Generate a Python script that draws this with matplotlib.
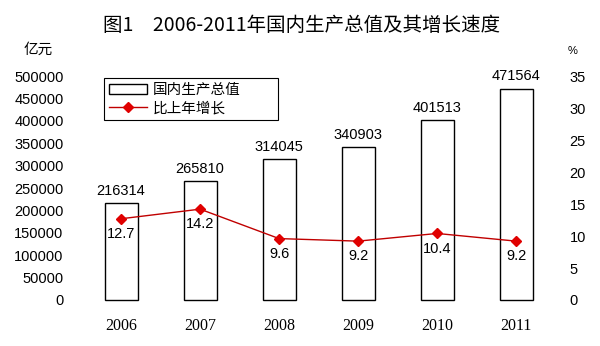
import matplotlib
matplotlib.use('Agg')
import matplotlib.pyplot as plt
import numpy as np

plt.rcParams['font.family'] = ['Liberation Sans', 'Noto Sans CJK SC', 'DejaVu Sans']

years = ['2006', '2007', '2008', '2009', '2010', '2011']
gdp = [216314, 265810, 314045, 340903, 401513, 471564]
growth = [12.7, 14.2, 9.6, 9.2, 10.4, 9.2]
gdp_ticks = [0, 50000, 100000, 150000, 200000, 250000, 300000, 350000, 400000, 450000, 500000]
pct_ticks = [0, 5, 10, 15, 20, 25, 30, 35]

fig = plt.figure(figsize=(6, 3.46), dpi=100)
ax = fig.add_axes([0.136, 0.133, 0.79, 0.647])
ax2 = ax.twinx()

x = np.arange(len(years))
bars = ax.bar(x, gdp, 0.42, color='white', edgecolor='black', linewidth=1.0,
              label='国内生产总值', zorder=2, clip_on=False)
for xi, v in zip(x, gdp):
    ax.text(xi, v + 12000, str(v), ha='center', va='bottom', fontsize=10.5)

ax.set_xlim(-0.5, len(years) - 0.5)
ax.set_ylim(0, 500000)
ax.set_yticks(gdp_ticks)
ax.set_yticklabels([str(t) for t in gdp_ticks], fontsize=10.5)
ax.set_xticks(x)
ax.set_xticklabels(years, fontsize=11.5, family='Liberation Serif')
ax.tick_params(axis='y', length=0, pad=13)
ax.tick_params(axis='x', length=0, pad=13)

line, = ax2.plot(x, growth, color='#c00000', linewidth=1.0, marker='D',
                 markersize=5, markerfacecolor='#e00000', markeredgecolor='#e00000',
                 label='比上年增长', zorder=3)
for xi, v in zip(x, growth):
    ax2.text(xi, v - 1.3, str(v), ha='center', va='top', fontsize=10.5)
ax2.set_ylim(0, 35)
ax2.set_yticks(pct_ticks)
ax2.set_yticklabels([str(t) for t in pct_ticks], fontsize=10.5)
ax2.tick_params(axis='y', length=0, pad=10)

for a in (ax, ax2):
    for s in a.spines.values():
        s.set_visible(False)

leg = ax.legend([bars, line], ['国内生产总值', '比上年增长'], loc='upper left',
                bbox_to_anchor=(0.047, 0.62, 0.367, 0.37), mode='expand',
                borderaxespad=0, fancybox=False, framealpha=1,
                edgecolor='black', handlelength=2.6, handletextpad=0.4,
                borderpad=0.35, labelspacing=0.25,
                prop={'family': ['Noto Sans CJK SC'], 'size': 10.5})
leg.get_frame().set_linewidth(0.8)

fig.text(0.503, 0.925, '图1　2006-2011年国内生产总值及其增长速度', ha='center', va='center',
         fontsize=14, family=['Noto Sans CJK SC'])
fig.text(0.063, 0.855, '亿元', ha='center', va='center', fontsize=10.5,
         family=['Noto Sans CJK SC'])
fig.text(0.955, 0.853, '%', ha='center', va='center', fontsize=8)

fig.savefig('out.png', dpi=100)
